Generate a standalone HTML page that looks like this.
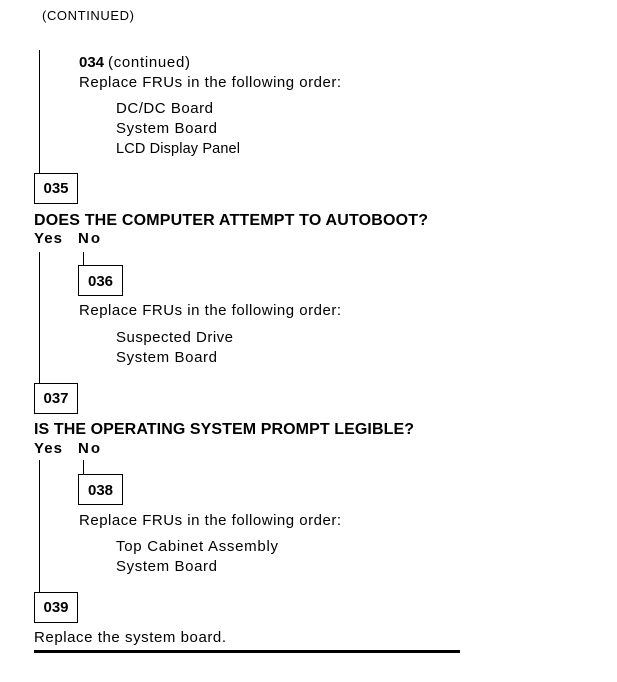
<!DOCTYPE html>
<html>
<head>
<meta charset="utf-8">
<style>
  html,body{margin:0;padding:0;background:#fff;}
  svg{display:block;}
  text{font-family:"Liberation Sans",Arial,sans-serif;fill:#000;}
  .r{font-size:15px;}
  .b{font-size:15px;font-weight:bold;}
  .q{font-size:16px;font-weight:bold;}
</style>
</head>
<body>
<svg width="617" height="682" viewBox="0 0 617 682" xmlns="http://www.w3.org/2000/svg">
  <g stroke="#000" stroke-width="1" fill="none" shape-rendering="crispEdges">
    <line x1="39.5" y1="50" x2="39.5" y2="173"/>
    <rect x="34.5" y="173.5" width="43" height="30"/>
    <line x1="39.5" y1="252" x2="39.5" y2="383"/>
    <line x1="83.5" y1="252" x2="83.5" y2="265"/>
    <rect x="78.5" y="265.5" width="44" height="30"/>
    <rect x="34.5" y="383.5" width="43" height="30"/>
    <line x1="39.5" y1="460" x2="39.5" y2="592"/>
    <line x1="83.5" y1="460" x2="83.5" y2="474"/>
    <rect x="78.5" y="474.5" width="44" height="30"/>
    <rect x="34.5" y="592.5" width="43" height="30"/>
  </g>
  <rect x="34" y="650" width="426" height="3" fill="#000"/>

  <text x="42" y="20" style="font-size:13px" textLength="92" lengthAdjust="spacing">(CONTINUED)</text>

  <text class="b" x="79" y="67">034</text>
  <text class="r" x="108" y="67" textLength="82" lengthAdjust="spacing">(continued)</text>
  <text class="r" x="79" y="87" textLength="262" lengthAdjust="spacing">Replace FRUs in the following order:</text>
  <text class="r" x="116" y="113" textLength="97" lengthAdjust="spacing">DC/DC Board</text>
  <text class="r" x="116" y="133" textLength="101" lengthAdjust="spacing">System Board</text>
  <text x="116" y="153" style="font-size:14.5px" textLength="124" lengthAdjust="spacing">LCD Display Panel</text>

  <text class="b" x="56" y="193" text-anchor="middle">035</text>
  <text class="q" x="34" y="225" textLength="394" lengthAdjust="spacing">DOES THE COMPUTER ATTEMPT TO AUTOBOOT?</text>
  <text class="b" x="34" y="243" textLength="28" lengthAdjust="spacing">Yes</text>
  <text class="b" x="78" y="243" textLength="22" lengthAdjust="spacing">No</text>

  <text class="b" x="100.5" y="286" text-anchor="middle">036</text>
  <text class="r" x="79" y="315" textLength="262" lengthAdjust="spacing">Replace FRUs in the following order:</text>
  <text class="r" x="116" y="342" textLength="117" lengthAdjust="spacing">Suspected Drive</text>
  <text class="r" x="116" y="362" textLength="101" lengthAdjust="spacing">System Board</text>

  <text class="b" x="56" y="403" text-anchor="middle">037</text>
  <text class="q" x="34" y="434" textLength="380" lengthAdjust="spacing">IS THE OPERATING SYSTEM PROMPT LEGIBLE?</text>
  <text class="b" x="34" y="453" textLength="28" lengthAdjust="spacing">Yes</text>
  <text class="b" x="78" y="453" textLength="22" lengthAdjust="spacing">No</text>

  <text class="b" x="100.5" y="495" text-anchor="middle">038</text>
  <text class="r" x="79" y="525" textLength="262" lengthAdjust="spacing">Replace FRUs in the following order:</text>
  <text class="r" x="116" y="551" textLength="162" lengthAdjust="spacing">Top Cabinet Assembly</text>
  <text class="r" x="116" y="571" textLength="101" lengthAdjust="spacing">System Board</text>

  <text class="b" x="56" y="612" text-anchor="middle">039</text>
  <text class="r" x="34" y="642" textLength="192" lengthAdjust="spacing">Replace the system board.</text>
</svg>
</body>
</html>
